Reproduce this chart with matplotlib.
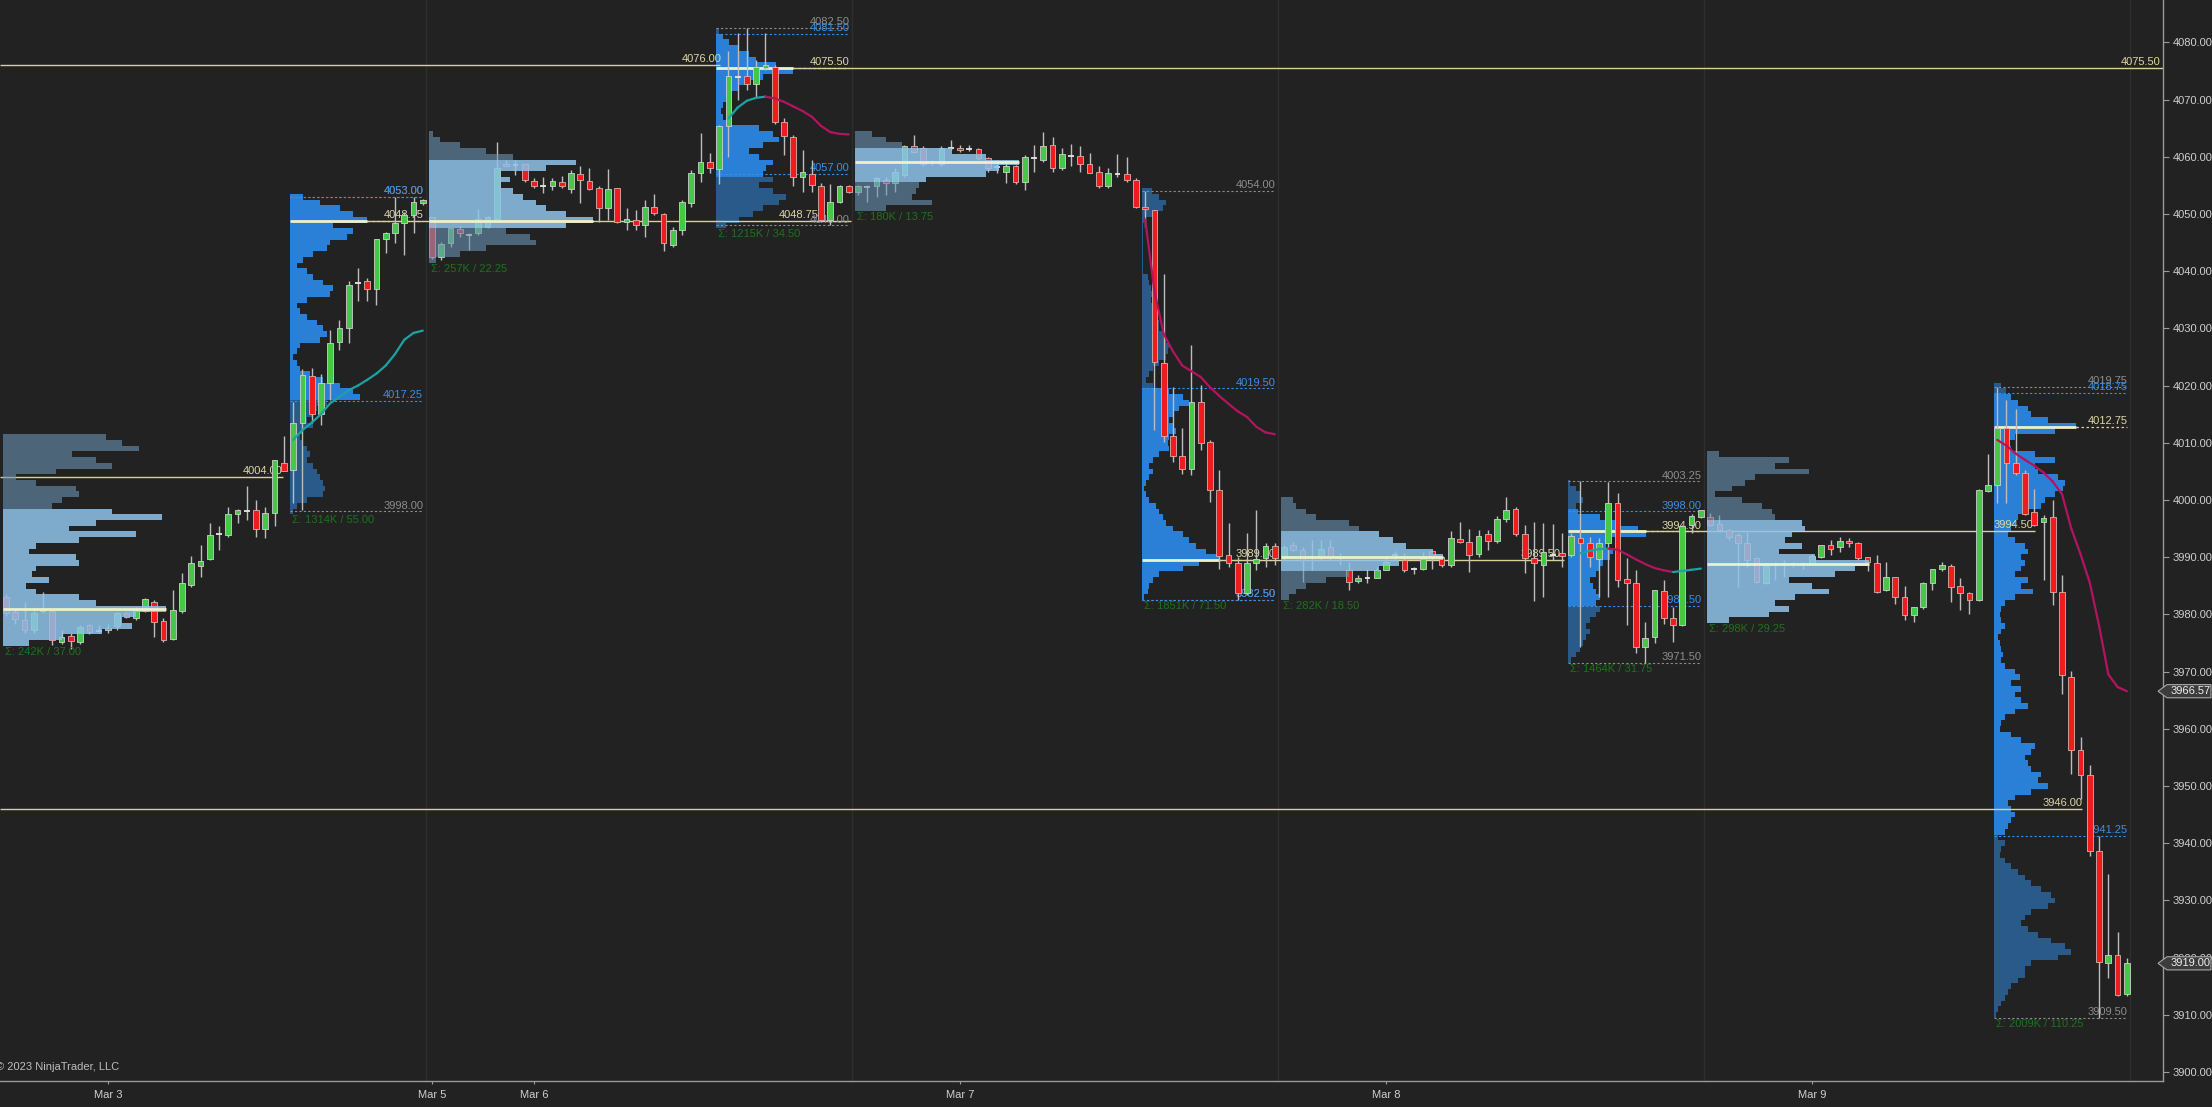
import numpy as np
import matplotlib.pyplot as plt
import matplotlib.transforms as mtransforms
from matplotlib.patches import Polygon
from matplotlib.ticker import FormatStrFormatter

plt.rcParams['font.family'] = ['Liberation Sans', 'DejaVu Sans']

# --- candles (30 min bars, Mar 3 - Mar 9) ---
opens = [
    3983.1, 3980.5, 3979.1, 3977.3, 3980.5, 3980.6, 3975.2, 3976.2, 3975.2, 3978.1,
    3977.0, 3977.2, 3977.9, 3980.2, 3979.3, 3980.6, 3982.2, 3978.9, 3975.7, 3980.6,
    3985.1, 3988.5, 3989.6, 3994.1, 3993.8, 3997.6, 3998.0, 3998.2, 3994.9, 3997.8,
    4006.5, 4005.2, 4013.5, 4021.7, 4015.1, 4020.4, 4027.7, 4030.0, 4038.0, 4038.2,
    4036.9, 4045.6, 4046.7, 4048.4, 4049.8, 4052.0, 4049.4, 4042.5, 4044.9, 4047.4,
    4046.4, 4046.6, 4047.8, 4049.2, 4058.8, 4058.6, 4058.8, 4055.8, 4054.8, 4054.8,
    4055.6, 4054.3, 4057.0, 4055.8, 4054.6, 4051.1, 4054.5, 4048.6, 4048.9, 4048.1,
    4051.3, 4050.0, 4044.6, 4047.2, 4051.9, 4057.2, 4059.1, 4057.8, 4065.3, 4074.0,
    4074.1, 4072.8, 4075.5, 4075.7, 4066.1, 4063.5, 4056.4, 4057.0, 4054.8, 4048.9,
    4052.1, 4054.8, 4053.9, 4054.8, 4054.8, 4056.0, 4055.4, 4056.8, 4061.8, 4061.5,
    4058.9, 4058.8, 4061.6, 4061.6, 4061.3, 4061.4, 4059.7, 4058.2, 4057.4, 4058.3,
    4055.6, 4059.7, 4059.4, 4062.0, 4058.0, 4060.1, 4060.1, 4058.8, 4057.3, 4054.8,
    4057.0, 4057.0, 4056.0, 4051.3, 4050.7, 4023.9, 4011.2, 4007.7, 4005.5, 4017.2,
    4010.2, 4001.8, 3990.4, 3989.0, 3983.8, 3989.0, 3989.8, 3991.9, 3990.0, 3992.1,
    3991.2, 3990.1, 3990.1, 3991.8, 3989.8, 3987.7, 3985.8, 3986.4, 3986.4, 3987.7,
    3990.4, 3989.5, 3988.0, 3988.0, 3991.1, 3990.0, 3988.6, 3993.1, 3992.7, 3990.5,
    3994.0, 3992.9, 3996.6, 3998.5, 3994.0, 3989.8, 3988.6, 3990.4, 3990.8, 3990.4,
    3993.4, 3992.4, 3989.6, 3992.4, 3999.5, 3986.1, 3985.5, 3974.3, 3976.0, 3984.1,
    3979.3, 3978.1, 3995.6, 3997.1, 3997.1, 3995.8, 3994.8, 3993.9, 3992.4, 3989.8,
    3985.4, 3988.6, 3988.8, 3988.8, 3988.8, 3989.0, 3990.1, 3992.1, 3991.8, 3992.9,
    3992.4, 3990.0, 3989.0, 3984.2, 3986.6, 3983.1, 3979.9, 3981.3, 3985.4, 3987.9,
    3988.4, 3984.9, 3983.7, 3982.5, 4001.6, 4002.6, 4012.6, 4006.4, 4004.8, 3997.9,
    3996.2, 3997.0, 3983.9, 3969.0, 3956.3, 3952.0, 3938.6, 3919.0, 3920.4, 3913.6,
]
highs = [
    3983.5, 3981.0, 3982.2, 3981.3, 3983.9, 3981.0, 3977.2, 3976.7, 3978.1, 3978.4,
    3978.1, 3978.4, 3980.4, 3980.5, 3981.3, 3982.8, 3982.5, 3979.3, 3984.3, 3987.3,
    3990.2, 3992.2, 3995.9, 3995.4, 3998.7, 3998.4, 4002.4, 4000.0, 3998.7, 4006.9,
    4011.2, 4017.2, 4022.9, 4023.0, 4022.1, 4029.7, 4031.4, 4038.2, 4040.5, 4038.8,
    4045.7, 4046.9, 4053.0, 4050.4, 4053.0, 4052.7, 4049.5, 4045.1, 4047.6, 4047.9,
    4046.6, 4050.8, 4049.6, 4062.5, 4059.4, 4059.5, 4058.8, 4056.2, 4056.5, 4056.2,
    4056.6, 4057.6, 4058.3, 4058.1, 4054.8, 4057.8, 4054.6, 4051.0, 4050.7, 4052.4,
    4053.5, 4050.1, 4047.8, 4052.4, 4057.7, 4064.1, 4060.6, 4065.6, 4078.4, 4081.6,
    4082.5, 4076.9, 4081.6, 4076.0, 4066.7, 4063.8, 4061.2, 4059.4, 4055.4, 4055.3,
    4055.1, 4055.1, 4055.1, 4055.1, 4056.5, 4056.5, 4058.0, 4062.1, 4063.8, 4061.8,
    4059.5, 4061.8, 4062.9, 4062.0, 4062.0, 4061.5, 4060.0, 4059.4, 4059.4, 4058.6,
    4060.3, 4062.0, 4064.4, 4063.5, 4061.5, 4062.3, 4061.8, 4060.6, 4058.3, 4058.0,
    4060.5, 4060.0, 4056.2, 4054.0, 4050.7, 4039.5, 4019.8, 4012.5, 4027.1, 4020.1,
    4010.5, 4005.2, 3995.9, 3990.0, 3994.2, 3998.2, 3992.4, 3992.4, 3992.2, 3992.7,
    3991.8, 3993.0, 3993.0, 3993.0, 3990.7, 3989.2, 3986.9, 3988.0, 3988.3, 3990.1,
    3991.0, 3990.7, 3988.3, 3990.9, 3991.2, 3990.1, 3994.6, 3996.2, 3994.9, 3994.7,
    3994.7, 3997.2, 4000.6, 3998.7, 3995.6, 3996.2, 3996.0, 3995.8, 3994.3, 3994.2,
    4003.25, 3993.6, 3993.3, 4003.2, 4001.3, 3989.8, 3987.7, 3978.7, 3984.3, 3986.0,
    3981.3, 3995.6, 3997.6, 3998.3, 3997.7, 3997.4, 3995.0, 3994.2, 3994.4, 3990.1,
    3988.6, 3989.2, 3989.5, 3989.2, 3989.2, 3990.6, 3992.1, 3993.0, 3993.6, 3993.3,
    3992.7, 3990.1, 3990.4, 3989.2, 3986.6, 3984.9, 3981.3, 3985.7, 3987.9, 3989.2,
    3988.8, 3986.3, 3983.9, 4002.0, 4008.1, 4019.75, 4017.4, 4015.9, 4005.3, 4002.0,
    3997.3, 4000.0, 3986.9, 3970.1, 3958.6, 3953.7, 3941.2, 3934.6, 3924.5, 3920.0,
]
lows = [
    3979.8, 3978.4, 3976.7, 3976.7, 3980.2, 3974.7, 3974.8, 3974.0, 3974.9, 3976.5,
    3976.7, 3976.7, 3977.3, 3979.4, 3979.0, 3980.5, 3976.1, 3975.2, 3975.5, 3980.3,
    3984.8, 3986.5, 3989.5, 3991.2, 3993.6, 3996.0, 3996.5, 3993.6, 3993.3, 3995.4,
    4005.0, 3999.4, 3998.2, 4013.4, 4013.1, 4017.5, 4026.2, 4027.4, 4034.7, 4034.7,
    4034.1, 4043.1, 4044.9, 4042.8, 4046.6, 4051.6, 4042.2, 4041.9, 4044.2, 4046.0,
    4043.7, 4046.3, 4047.5, 4048.9, 4058.3, 4056.8, 4055.6, 4054.5, 4053.6, 4054.2,
    4054.5, 4053.6, 4051.9, 4054.2, 4048.6, 4048.9, 4048.4, 4047.2, 4047.2, 4046.0,
    4049.8, 4043.5, 4044.3, 4046.3, 4051.3, 4055.6, 4057.1, 4055.3, 4060.0, 4069.9,
    4071.7, 4070.2, 4075.2, 4065.8, 4060.3, 4054.8, 4053.9, 4053.9, 4048.6, 4048.1,
    4051.9, 4053.6, 4053.3, 4052.1, 4053.0, 4053.3, 4053.9, 4056.5, 4060.6, 4058.3,
    4058.5, 4058.3, 4061.1, 4060.9, 4061.0, 4059.4, 4057.4, 4057.1, 4055.4, 4055.3,
    4054.2, 4057.4, 4059.1, 4057.4, 4057.7, 4058.3, 4057.4, 4057.1, 4054.5, 4054.5,
    4056.5, 4055.6, 4051.0, 4047.8, 4012.2, 4010.2, 4006.7, 4004.6, 4004.4, 4008.7,
    3999.7, 3988.0, 3988.3, 3982.5, 3983.4, 3987.8, 3988.3, 3988.6, 3989.5, 3991.0,
    3985.7, 3987.7, 3989.5, 3989.5, 3988.6, 3984.2, 3985.5, 3985.5, 3986.3, 3987.7,
    3989.5, 3987.4, 3987.0, 3987.7, 3988.0, 3988.3, 3988.3, 3992.4, 3987.4, 3990.1,
    3991.2, 3992.4, 3996.2, 3993.7, 3987.2, 3982.4, 3983.1, 3989.5, 3988.3, 3990.1,
    3974.3, 3988.3, 3983.1, 3983.1, 3984.8, 3978.1, 3973.2, 3971.5, 3975.0, 3978.4,
    3975.2, 3978.0, 3994.2, 3996.8, 3995.4, 3994.4, 3993.0, 3984.8, 3988.3, 3985.4,
    3985.3, 3986.0, 3986.6, 3988.3, 3988.0, 3988.9, 3989.8, 3990.4, 3990.9, 3991.8,
    3989.5, 3987.5, 3983.7, 3984.0, 3981.9, 3979.0, 3978.7, 3981.0, 3984.3, 3987.5,
    3982.2, 3980.7, 3980.1, 3982.4, 4001.4, 3999.5, 3999.5, 4004.4, 3997.4, 3995.5,
    3986.0, 3981.6, 3966.1, 3952.1, 3947.7, 3937.8, 3909.5, 3916.4, 3913.3, 3913.3,
]
closes = [
    3980.3, 3979.2, 3977.3, 3980.2, 3980.6, 3975.5, 3976.1, 3975.4, 3977.8, 3977.0,
    3977.2, 3977.7, 3980.2, 3979.6, 3981.0, 3982.7, 3978.7, 3975.6, 3980.8, 3985.4,
    3988.9, 3989.3, 3993.8, 3994.0, 3997.5, 3998.2, 3998.1, 3995.0, 3997.8, 4006.9,
    4005.1, 4013.4, 4021.8, 4015.1, 4020.4, 4027.4, 4030.0, 4037.6, 4038.0, 4036.8,
    4045.6, 4046.6, 4048.4, 4049.8, 4052.1, 4052.5, 4042.5, 4044.8, 4047.5, 4046.6,
    4046.3, 4049.2, 4049.5, 4058.1, 4058.3, 4058.5, 4055.9, 4054.9, 4054.8, 4055.8,
    4054.8, 4057.1, 4056.0, 4054.3, 4051.1, 4054.4, 4048.6, 4049.1, 4048.1, 4051.2,
    4050.2, 4044.9, 4047.2, 4052.1, 4057.2, 4059.1, 4058.1, 4065.4, 4074.1, 4074.0,
    4072.8, 4075.7, 4076.0, 4066.1, 4063.6, 4056.5, 4057.3, 4055.0, 4048.9, 4052.1,
    4054.8, 4053.9, 4054.8, 4054.7, 4056.2, 4055.4, 4057.4, 4061.8, 4060.9, 4058.8,
    4059.1, 4061.5, 4061.6, 4061.2, 4061.4, 4059.7, 4058.0, 4058.3, 4058.3, 4055.5,
    4059.9, 4059.7, 4061.9, 4058.0, 4060.5, 4060.1, 4058.8, 4057.2, 4054.9, 4057.1,
    4057.0, 4055.9, 4051.2, 4050.8, 4024.2, 4011.2, 4007.6, 4005.5, 4017.2, 4009.9,
    4001.7, 3990.2, 3989.0, 3983.8, 3988.9, 3989.7, 3991.9, 3989.8, 3991.8, 3991.2,
    3989.5, 3990.1, 3991.5, 3990.1, 3989.8, 3985.7, 3986.4, 3986.4, 3987.7, 3989.2,
    3990.4, 3987.7, 3988.0, 3989.8, 3989.8, 3988.6, 3993.3, 3992.7, 3990.4, 3993.7,
    3992.9, 3996.6, 3998.2, 3994.0, 3989.8, 3989.0, 3990.9, 3990.4, 3990.2, 3993.7,
    3992.5, 3990.0, 3992.4, 3999.4, 3986.0, 3985.5, 3974.3, 3975.8, 3984.2, 3979.3,
    3978.1, 3995.4, 3997.2, 3998.2, 3995.6, 3994.7, 3993.6, 3992.4, 3989.5, 3985.7,
    3988.4, 3988.6, 3988.8, 3988.8, 3988.8, 3990.2, 3992.1, 3991.5, 3992.9, 3992.5,
    3989.8, 3989.1, 3983.9, 3986.6, 3983.0, 3979.9, 3981.3, 3985.4, 3987.9, 3988.6,
    3984.8, 3983.8, 3982.6, 4001.8, 4002.6, 4012.6, 4006.4, 4004.8, 3997.6, 3995.7,
    3996.8, 3983.9, 3969.4, 3956.3, 3952.0, 3938.6, 3919.2, 3920.4, 3913.5, 3919.0,
]

date_bars = [11, 46, 57, 103, 149, 195]
date_labels = ["Mar 3", "Mar 5", "Mar 6", "Mar 7", "Mar 8", "Mar 9"]
session_breaks = [45.3, 91.3, 137.3, 183.3, 229.3]

# --- RTH profiles (blue) ---
rth_first = [31, 77, 123, 169, 215]
rth_last = [45, 91, 137, 183, 229]
rth_high = [4053.00, 4082.50, 4054.00, 4003.25, 4019.75]
rth_vah = [4053.00, 4081.50, 4019.50, 3998.00, 4018.75]
rth_poc = [4048.75, 4075.50, 3989.50, 3994.50, 4012.75]
rth_val = [4017.25, 4057.00, 3982.50, 3981.50, 3941.25]
rth_low = [3998.00, 4048.00, 3982.50, 3971.50, 3909.50]
rth_sigma = ["Σ: 1314K / 55.00", "Σ: 1215K / 34.50", "Σ: 1851K / 71.50",
             "Σ: 1464K / 31.75", "Σ: 2009K / 110.25"]
rth_row_top = [4053, 4082, 4054, 4003, 4020]
rth_vol_1 = [13, 30, 50, 63, 77, 43, 63, 57, 40, 37, 23, 13, 7, 17, 23, 33, 43, 40, 17, 7,
             10, 17, 27, 33, 37, 30, 10, 7, 3, 7, 10, 20, 33, 50, 63, 70, 37, 27, 23, 17,
             23, 13, 10, 13, 17, 20, 17, 23, 27, 30, 33, 35, 33, 17, 7, 3]
rth_vol_2 = [3, 7, 13, 23, 33, 40, 60, 77, 47, 30, 23, 13, 10, 7, 5, 7, 13, 43, 57, 63,
             47, 33, 43, 57, 50, 47, 57, 43, 57, 70, 63, 47, 37, 23, 10]
rth_vol_3 = [10, 17, 24, 21, 11, 2, 1, 1, 1, 1, 1, 1, 1, 1, 1, 6, 7, 9, 11, 9,
             12, 14, 11, 17, 17, 22, 24, 27, 26, 24, 17, 11, 7, 4, 11, 27, 41, 47, 37, 31,
             27, 31, 34, 27, 26, 27, 17, 11, 7, 11, 7, 4, 2, 4, 7, 14, 17, 21, 24, 31,
             41, 47, 54, 64, 77, 57, 41, 17, 11, 7, 6, 2]
rth_vol_4 = [2, 8, 13, 15, 8, 10, 32, 52, 70, 78, 42, 38, 45, 42, 35, 32, 28, 22, 25, 28,
             32, 28, 32, 28, 22, 18, 22, 18, 15, 12, 8, 3]
rth_vol_5 = [7, 12, 17, 24, 34, 37, 54, 82, 61, 21, 11, 17, 41, 61, 41, 44, 64, 71, 69, 61,
             51, 47, 31, 24, 21, 17, 14, 21, 31, 34, 27, 31, 27, 21, 34, 27, 39, 21, 11, 7,
             6, 7, 11, 7, 4, 6, 7, 9, 7, 11, 21, 26, 17, 27, 21, 27, 34, 21, 11, 7,
             6, 17, 27, 41, 37, 31, 34, 37, 47, 44, 54, 37, 21, 14, 17, 21, 17, 14, 11, 4,
             11, 7, 6, 11, 17, 24, 31, 37, 47, 57, 61, 54, 37, 31, 27, 34, 44, 57, 71, 77,
             64, 37, 31, 31, 24, 17, 14, 11, 7, 4, 2]
rth_vols = [rth_vol_1, rth_vol_2, rth_vol_3, rth_vol_4, rth_vol_5]

# --- ETH profiles (light) ---
eth_first = [0, 46, 92, 138, 184]
eth_row_top = [4011, 4064, 4064, 4000, 4008]
eth_vah = [3998.5, 4059.5, 4061.75, 3994.4, 3996.0]
eth_val = [3974.5, 4047.25, 4055.9, 3987.7, 3979.0]
eth_poc = [3981.0, 4048.75, 4059.0, 3990.0, 3988.75]
eth_sigma = ["Σ: 242K / 37.00", "Σ: 257K / 22.25", "Σ: 180K / 13.75",
             "Σ: 282K / 18.50", "Σ: 298K / 29.25"]
eth_vol_1 = [103, 119, 136, 69, 93, 109, 53, 13, 33, 73, 76, 59, 49, 109, 159, 93, 66, 133, 76, 33,
             26, 73, 76, 33, 29, 46, 23, 33, 76, 93, 163, 133, 119, 129, 99, 59, 26]
eth_vol_2 = [4, 11, 31, 57, 84, 147, 117, 71, 81, 71, 84, 94, 107, 117, 137, 164, 137, 77, 101, 107,
             57, 31, 7]
eth_vol_3 = [17, 31, 47, 97, 131, 164, 144, 131, 71, 64, 61, 57, 77, 31]
eth_vol_4 = [12, 15, 25, 35, 68, 78, 98, 112, 125, 152, 162, 118, 98, 68, 45, 25, 15, 8]
eth_vol_5 = [12, 82, 68, 102, 48, 38, 25, 8, 35, 55, 65, 68, 95, 98, 85, 78, 95, 72, 108, 162,
             148, 128, 82, 105, 122, 88, 68, 82, 62, 22]
eth_vols = [eth_vol_1, eth_vol_2, eth_vol_3, eth_vol_4, eth_vol_5]

# --- naked POC lines ---
naked_price = [4004.00, 4076.00, 4075.50, 3946.00, 4048.75, 3989.50, 3994.50]
naked_start = [-0.65, -0.65, 77, -0.65, 31, 123, 169]
naked_end = [29.9, 77.1, 232.9, 224.2, 91.2, 168.2, 219.1]
naked_label_at = [29.9, 77.3, 232.6, 224.2, 87.7, 167.9, 218.9]

# --- session indicator line ---
ind_start = [31, 78, 123, 170, 215]
ind_1 = [4010.5, 4012.2, 4013.5, 4015.0, 4016.9, 4018.0, 4019.2, 4020.0, 4021.0, 4022.1,
         4023.5, 4025.5, 4028.0, 4029.2, 4029.6]
ind_2 = [4066.7, 4068.6, 4069.8, 4070.3, 4070.5, 4070.2, 4069.6, 4068.8, 4068.0, 4067.0,
         4065.4, 4064.3, 4064.0, 4063.9]
ind_3 = [4049.0, 4036.5, 4029.0, 4026.0, 4023.5, 4022.5, 4021.5, 4019.7, 4018.2, 4016.8,
         4015.5, 4014.5, 4012.8, 4011.8, 4011.5]
ind_4 = [3990.7, 3991.1, 3991.4, 3991.5, 3991.3, 3990.5, 3989.6, 3988.8, 3988.1, 3987.7,
         3987.4, 3987.6, 3987.8, 3988.0]
ind_5 = [4010.5, 4009.5, 4008.1, 4007.0, 4006.0, 4004.8, 4003.2, 4001.0, 3995.0, 3990.5,
         3985.5, 3978.0, 3969.5, 3967.3, 3966.57]
ind_vals = [ind_1, ind_2, ind_3, ind_4, ind_5]

# --- colours ---
BG = '#222222'
GREEN = '#46c846'
RED = '#ee1c1c'
WICK = '#bdbdbd'
RTH_IN, RTH_OUT = '#2a80d6', '#295a8a'
ETH_IN, ETH_OUT = '#8fc3ea', '#6b93b5'
POC_BRIGHT = '#eef0c8'
NAKED = '#d9d19c'
LBL_GRAY, LBL_BLUE, LBL_YEL = '#8c8c8c', '#3b8ee6', '#ddd6a4'
SIGMA = '#1d711d'
TEAL, MAGENTA = '#1aa3a3', '#b4145f'

W, H = 2212, 1107
fig = plt.figure(figsize=(W / 100, H / 100), dpi=100, facecolor=BG)
ax = fig.add_axes([0, 26 / H, 2163 / W, 1081 / H], facecolor=BG)
ax.set_xlim(-0.65, 232.9)
ax.set_ylim(3898.43, 4087.40)
PX = 1 / 9.26   # bar units per pixel of profile width

for xb in session_breaks:
    ax.axvline(xb, color='#2e2e2e', lw=1, zorder=0.5)


def draw_profile(x0, top, vols, val, vah, c_in, c_out, z, a_in=1.0, a_out=1.0):
    prices = top - np.arange(len(vols))
    w = np.array(vols) * PX
    inside = (prices >= val - 0.01) & (prices <= vah + 0.01)
    ax.barh(prices[inside], w[inside], left=x0, height=1.0, color=c_in,
            linewidth=0, zorder=z, alpha=a_in)
    ax.barh(prices[~inside], w[~inside], left=x0, height=1.0, color=c_out,
            linewidth=0, zorder=z, alpha=a_out)
    return prices, w


# RTH profiles, under the candles
for k in range(5):
    x0 = rth_first[k] - 0.3
    xe = rth_last[k] + 0.05
    prices, w = draw_profile(x0, rth_row_top[k], rth_vols[k], rth_val[k], rth_vah[k],
                             RTH_IN, RTH_OUT, 1)
    dot = (0, (2, 2))
    ax.hlines([rth_high[k], rth_low[k]], x0, xe, colors=LBL_GRAY, linestyles=dot, lw=0.8, zorder=2.6)
    ax.hlines([rth_vah[k], rth_val[k]], x0, xe, colors=LBL_BLUE, linestyles=dot, lw=0.8, zorder=2.6)
    ax.hlines(rth_poc[k], x0 + w.max(), xe, colors=NAKED, linestyles=dot, lw=0.9, zorder=2.6)
    ax.hlines(rth_poc[k], x0, x0 + w.max(), colors=POC_BRIGHT, lw=2, zorder=2.7)
    for p, col in [(rth_high[k], LBL_GRAY), (rth_low[k], LBL_GRAY),
                   (rth_vah[k], LBL_BLUE), (rth_val[k], LBL_BLUE), (rth_poc[k], LBL_YEL)]:
        ax.text(xe, p + 0.15, f"{p:.2f}", color=col, fontsize=8, ha='right', va='bottom', zorder=2.8)
    ax.text(x0 + 0.2, prices[-1] - 0.7, rth_sigma[k], color=SIGMA, fontsize=8,
            ha='left', va='top', zorder=2.8)

# naked POCs
for p, s, e, lx in zip(naked_price, naked_start, naked_end, naked_label_at):
    ax.hlines(p, s, e, colors=NAKED, lw=1, zorder=2.5)
    ax.text(lx, p + 0.2, f"{p:.2f}", color=LBL_YEL, fontsize=8, ha='right', va='bottom', zorder=2.5)

# candles
x = np.arange(len(closes))
o = np.array(opens)
c = np.array(closes)
hi = np.maximum(np.array(highs), np.maximum(o, c))
lo = np.minimum(np.array(lows), np.minimum(o, c))
ax.vlines(x, lo, hi, color=WICK, lw=1, zorder=3)
up = c > o + 0.2
dn = c < o - 0.2
dj = ~(up | dn)
ax.bar(x[up], c[up] - o[up], bottom=o[up], width=0.62, color=GREEN,
       edgecolor='#cfcfcf', linewidth=0.6, zorder=3.2)
ax.bar(x[dn], o[dn] - c[dn], bottom=c[dn], width=0.62, color=RED,
       edgecolor='#d8b0b0', linewidth=0.6, zorder=3.2)
ax.hlines((o[dj] + c[dj]) / 2, x[dj] - 0.31, x[dj] + 0.31, color='#e6e6e6', lw=1.3, zorder=3.2)

# indicator
for s, vals in zip(ind_start, ind_vals):
    xs = s + np.arange(len(vals))
    for j in range(1, len(vals)):
        col = TEAL if vals[j] >= vals[j - 1] else MAGENTA
        ax.plot(xs[j - 1:j + 1], vals[j - 1:j + 1], color=col, lw=1.6,
                solid_capstyle='round', zorder=3.5)

# ETH profiles, over the candles
for k in range(5):
    x0 = eth_first[k] - 0.3
    prices, w = draw_profile(x0, eth_row_top[k], eth_vols[k], eth_val[k], eth_vah[k],
                             ETH_IN, ETH_OUT, 4, a_in=0.85, a_out=0.6)
    ax.hlines(eth_poc[k], x0, x0 + w.max(), colors=POC_BRIGHT, lw=2, zorder=4.5)
    ax.text(x0 + 0.2, prices[-1] - 0.7, eth_sigma[k], color=SIGMA, fontsize=8,
            ha='left', va='top', zorder=4.6)

# axes
ax.yaxis.tick_right()
ax.set_yticks(np.arange(3900, 4081, 10))
ax.yaxis.set_major_formatter(FormatStrFormatter('%.2f'))
ax.tick_params(axis='y', labelcolor='#cfcfcf', color='#9a9a9a', labelsize=8,
               length=4, width=0.8, pad=3)
ax.set_xticks(date_bars)
ax.set_xticklabels(date_labels)
ax.tick_params(axis='x', labelcolor='#cfcfcf', color='#9a9a9a', labelsize=8,
               length=2.5, width=0.8, pad=4)
for side in ['top', 'left']:
    ax.spines[side].set_visible(False)
for side in ['right', 'bottom']:
    ax.spines[side].set_color('#9a9a9a')
    ax.spines[side].set_linewidth(1)

# price tags on the right axis
trans = mtransforms.blended_transform_factory(fig.transFigure, ax.transData)
for p, txt in [(ind_5[-1], f"{ind_5[-1]:.2f}"), (closes[-1], f"{closes[-1]:.2f}")]:
    hh = 1.15
    verts = [(2158 / W, p), (2167 / W, p + hh), (2211 / W, p + hh),
             (2211 / W, p - hh), (2167 / W, p - hh)]
    ax.add_patch(Polygon(verts, closed=True, transform=trans, facecolor='#3c3c3c',
                         edgecolor='#a8a8a8', lw=0.8, clip_on=False, zorder=10))
    ax.text(2171 / W, p, txt, transform=trans, color='#eeeeee', fontsize=8,
            ha='left', va='center', clip_on=False, zorder=11)

fig.text(-0.002, (H - 1067) / H, "© 2023 NinjaTrader, LLC", color='#bdbdbd',
         fontsize=8, ha='left', va='center')

fig.savefig('out.png', dpi=100, facecolor=BG)
